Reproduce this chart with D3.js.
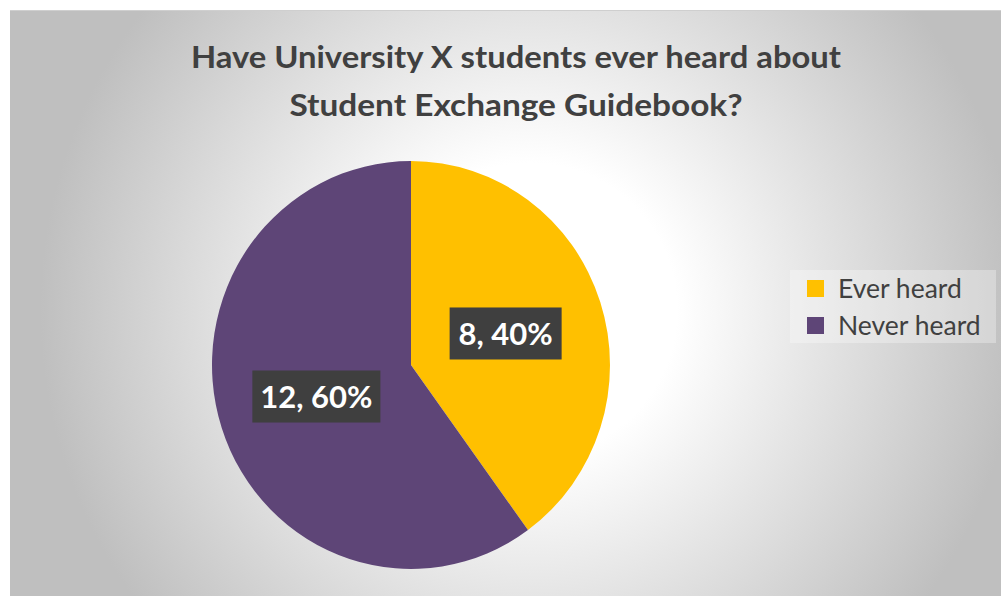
<!DOCTYPE html>
<html><head><meta charset="utf-8">
<script src="https://cdn.jsdelivr.net/npm/d3@7"></script>
<style>html,body{margin:0;padding:0;background:#fff;}svg{display:block;}</style>
</head><body>
<svg id="chart" width="1001" height="596"></svg>
<script>
const categories = ["Ever heard", "Never heard"];
const values = [8, 12];
const colors = ["#FFC000", "#5E4577"];
const titleLines = ["Have University X students ever heard about", "Student Exchange Guidebook?"];

const svg = d3.select("#chart");
const W = 1001, H = 596;
const defs = svg.append("defs");
const rg = defs.append("radialGradient").attr("id", "bg")
  .attr("gradientUnits", "userSpaceOnUse")
  .attr("cx", 530).attr("cy", 310).attr("r", 490);
rg.append("stop").attr("offset", 0).attr("stop-color", "#ffffff");
rg.append("stop").attr("offset", 0.3).attr("stop-color", "#ffffff");
rg.append("stop").attr("offset", 1).attr("stop-color", "#bfbfbf");

svg.append("rect").attr("x", 10).attr("y", 10).attr("width", W - 10).attr("height", H - 10)
  .attr("fill", "url(#bg)");
svg.append("line").attr("x1", 10).attr("x2", W).attr("y1", 10.5).attr("y2", 10.5)
  .attr("stroke", "#cfcfcf").attr("stroke-width", 1);

// Title
const titleFont = "Lato, 'Open Sans', sans-serif";
const tLen = [650, 453];
svg.selectAll("text.title").data(titleLines).join("text")
  .attr("class", "title")
  .attr("x", 516).attr("y", (d, i) => 68 + i * 48)
  .attr("text-anchor", "middle")
  .attr("font-family", titleFont).attr("font-weight", 700).attr("font-size", 31)
  .attr("fill", "#404040")
  .attr("textLength", (d, i) => tLen[i]).attr("lengthAdjust", "spacingAndGlyphs")
  .text(d => d);

// Pie
const cx = 411, cy = 365, r = 199, sy = 204 / 199;
const total = d3.sum(values);
const pie = d3.pie().sort(null).value(d => d)(values);
const arc = d3.arc().innerRadius(0).outerRadius(r);
const g = svg.append("g").attr("transform", `translate(${cx},${cy}) scale(1,${sy})`);
g.selectAll("path").data(pie).join("path")
  .attr("d", arc).attr("fill", (d, i) => colors[i]);

// Labels
const fmt = d3.format(".0%");
const lg = svg.append("g");
pie.forEach((d, i) => {
  const c = arc.centroid(d);
  const x = cx + c[0], y = cy + c[1] * sy;
  const label = `${values[i]}, ${fmt(values[i] / total)}`;
  const grp = lg.append("g").attr("transform", `translate(${x},${y})`);
  const t = grp.append("text")
    .attr("text-anchor", "middle").attr("dy", "0.36em")
    .attr("font-family", titleFont).attr("font-weight", 700).attr("font-size", 31)
    .attr("fill", "#ffffff").text(label);
  const bw = label.length > 6 ? 128 : 112, bh = 52;
  grp.insert("rect", "text").attr("x", -bw / 2).attr("y", -bh / 2)
    .attr("width", bw).attr("height", bh).attr("fill", "#3f3f3f");
});

// Legend
const leg = svg.append("g");
leg.append("rect").attr("x", 790).attr("y", 270).attr("width", 206).attr("height", 73)
  .attr("fill", "#ffffff").attr("fill-opacity", 0.3);
categories.forEach((c, i) => {
  const y = 280 + i * 37;
  leg.append("rect").attr("x", 807).attr("y", y).attr("width", 17).attr("height", 17)
    .attr("fill", colors[i]);
  leg.append("text").attr("x", 838).attr("y", y + 18)
    .attr("font-family", titleFont).attr("font-size", 26.5).attr("fill", "#404040")
    .text(c);
});
</script>
</body></html>
